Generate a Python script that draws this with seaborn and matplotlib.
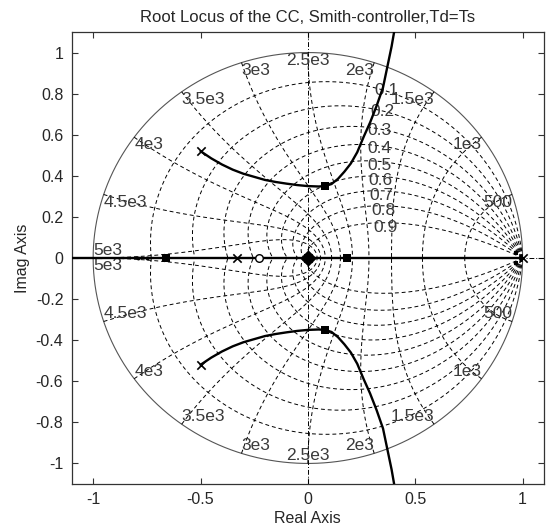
import numpy as np
import pandas as pd
import matplotlib
matplotlib.use("Agg")
import matplotlib.pyplot as plt
import seaborn as sns

# ---------------- data ----------------
# upper complex root-locus branch (lower branch is its mirror image)
branch_x = [-0.50, -0.45, -0.40, -0.35, -0.30, -0.25, -0.20, -0.15, -0.10, -0.05,
            0.00, 0.05, 0.08, 0.11, 0.14, 0.17, 0.20, 0.23, 0.26, 0.29, 0.32,
            0.35, 0.37, 0.39, 0.405]
branch_y = [0.52, 0.485, 0.455, 0.43, 0.41, 0.395, 0.38, 0.37, 0.362, 0.355,
            0.35, 0.348, 0.35, 0.36, 0.385, 0.42, 0.46, 0.515, 0.59, 0.66, 0.74,
            0.83, 0.93, 1.03, 1.12]
# real-axis locus
real_x = [-1.12, 1.0]
real_y = [0.0, 0.0]
# open-loop poles (x) and zeros (o)
pole_x = [-0.50, -0.50, -0.328, 0.0, 1.0]
pole_y = [0.52, -0.52, 0.0, 0.0, 0.0]
zero_x = [-0.228]
zero_y = [0.0]
# closed-loop poles for the chosen gain (squares)
cl_x = [-0.66, 0.08, 0.08, 0.18, 0.0]
cl_y = [0.0, 0.35, -0.35, 0.0, 0.0]
cl_near1_x = [0.97, 0.97]
cl_near1_y = [0.025, -0.025]
# small dots on the negative real axis
dot_x = [-0.79, -0.75]
dot_y = [0.0, 0.0]
# zgrid settings
zeta_values = [0.1, 0.2, 0.3, 0.4, 0.5, 0.6, 0.7, 0.8, 0.9]
zeta_labels = ["0.1", "0.2", "0.3", "0.4", "0.5", "0.6", "0.7", "0.8", "0.9"]
wn_fractions = [0.1, 0.2, 0.3, 0.4, 0.5, 0.6, 0.7, 0.8, 0.9, 1.0]
wn_labels = ["500", "1e3", "1.5e3", "2e3", "2.5e3", "3e3", "3.5e3", "4e3", "4.5e3", "5e3"]
x_ticks = [-1, -0.5, 0, 0.5, 1]
y_ticks = [-1, -0.8, -0.6, -0.4, -0.2, 0, 0.2, 0.4, 0.6, 0.8, 1]
title = "Root Locus of the CC, Smith-controller,Td=Ts"

# ---------------- figure ----------------
sns.set_theme(style="white")
plt.rcParams["font.family"] = ["Liberation Sans", "DejaVu Sans"]
txt = "#3a3a3a"
gfs = 12.5
fig = plt.figure(figsize=(5.48, 5.29), dpi=100)
ax = fig.add_axes([0.1308, 0.0851, 0.862, 0.8544])

grid_kw = dict(color="black", lw=0.7, dashes=(4, 3), zorder=1)

# unit circle (zeta = 0)
th = np.linspace(0, 2 * np.pi, 400)
ax.plot(np.cos(th), np.sin(th), color="#555555", lw=0.8, zorder=1)

# constant damping curves
for z in zeta_values:
    w = np.linspace(0, np.pi / np.sqrt(1 - z * z), 300)
    zz = np.exp(-z * w) * np.exp(1j * w * np.sqrt(1 - z * z))
    ax.plot(zz.real, zz.imag, **grid_kw)
    ax.plot(zz.real, -zz.imag, **grid_kw)

# constant natural-frequency curves
zs = np.linspace(0, 1, 200)
for f in wn_fractions:
    w = f * np.pi
    zz = np.exp(-zs * w) * np.exp(1j * w * np.sqrt(1 - zs * zs))
    ax.plot(zz.real, zz.imag, **grid_kw)
    ax.plot(zz.real, -zz.imag, **grid_kw)

# axis lines (dash-dot)
ax.axhline(0, color="black", lw=0.7, dashes=(5, 2, 1, 2), zorder=1)
ax.axvline(0, color="black", lw=0.7, dashes=(5, 2, 1, 2), zorder=1)

# grid labels: natural frequency
for f, lab in zip(wn_fractions, wn_labels):
    w = f * np.pi
    px, py = np.cos(w), np.sin(w)
    if abs(px) < 1e-6:
        ha = "center"
    elif px > 0:
        ha = "right"
    else:
        ha = "left"
    if f < 1.0:
        ax.text(px, py, lab, ha=ha, va="top", fontsize=gfs, color=txt, zorder=2)
        ax.text(px, -py, lab, ha=ha, va="bottom", fontsize=gfs, color=txt, zorder=2)
    else:
        ax.text(px, 0.0, lab, ha="left", va="bottom", fontsize=gfs, color=txt, zorder=2)
        ax.text(px, 0.0, lab, ha="left", va="top", fontsize=gfs, color=txt, zorder=2)

# grid labels: damping (placed on the 0.4*pi/T frequency curve)
for z, lab in zip(zeta_values, zeta_labels):
    w = 0.4 * np.pi
    zz = np.exp(-z * w) * np.exp(1j * w * np.sqrt(1 - z * z))
    ax.text(zz.real + 0.03, zz.imag - 0.02, lab, ha="left", va="center",
            fontsize=gfs, color=txt, zorder=2)

# ---------------- root locus ----------------
up = pd.DataFrame({"x": branch_x, "y": branch_y})
lo = pd.DataFrame({"x": branch_x, "y": [-v for v in branch_y]})
re = pd.DataFrame({"x": real_x, "y": real_y})
for d in (up, lo, re):
    sns.lineplot(data=d, x="x", y="y", sort=False, color="black", lw=1.7,
                 ax=ax, zorder=3, estimator=None)

sns.scatterplot(x=pole_x, y=pole_y, marker="x", s=36, color="black",
                linewidth=1.2, ax=ax, zorder=4)
sns.scatterplot(x=zero_x, y=zero_y, marker="o", s=30, facecolor="white",
                edgecolor="black", linewidth=1.0, ax=ax, zorder=4)
sns.scatterplot(x=cl_x, y=cl_y, marker="s", s=40, color="black",
                linewidth=0, ax=ax, zorder=5)
sns.scatterplot(x=cl_near1_x, y=cl_near1_y, marker="s", s=12, color="black",
                linewidth=0, ax=ax, zorder=5)
sns.scatterplot(x=[0.0], y=[0.0], marker="D", s=70, color="black",
                linewidth=0, ax=ax, zorder=5)
sns.scatterplot(x=dot_x, y=dot_y, marker="o", s=8, color="black",
                linewidth=0, ax=ax, zorder=5)

# ---------------- axes styling ----------------
ax.set_xlim(-1.1, 1.1)
ax.set_ylim(-1.1, 1.1)
ax.set_xticks(x_ticks)
ax.set_xticklabels(["-1", "-0.5", "0", "0.5", "1"])
ax.set_yticks(y_ticks)
ax.set_yticklabels(["-1", "-0.8", "-0.6", "-0.4", "-0.2", "0", "0.2", "0.4",
                    "0.6", "0.8", "1"])
ax.tick_params(direction="in", length=4, width=0.8, top=True, right=True,
               bottom=True, left=True, labelsize=11.5, colors="#333333",
               labelcolor="#262626", pad=6)
for s in ax.spines.values():
    s.set_color("#333333")
    s.set_linewidth(0.9)
ax.set_xlabel("Real Axis", fontsize=11.5, color="#262626", labelpad=3)
ax.set_ylabel("Imag Axis", fontsize=11.5, color="#262626", labelpad=4)
ax.set_title(title, fontsize=12, color="#262626", pad=7)

fig.savefig("out.png", dpi=100)
